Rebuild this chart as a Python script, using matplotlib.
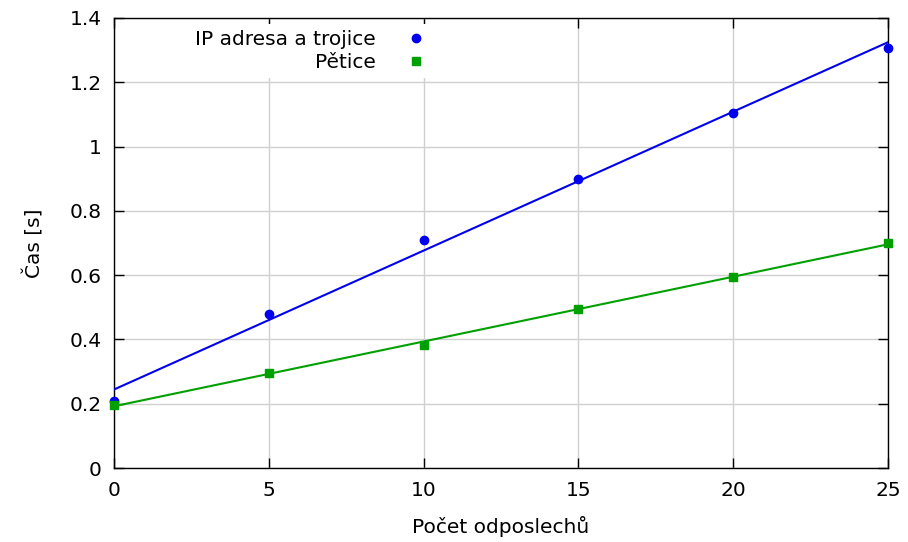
import numpy as np
import matplotlib
matplotlib.use("Agg")
import matplotlib.pyplot as plt

x = [0, 5, 10, 15, 20, 25]
ip_trojice = [0.208, 0.479, 0.709, 0.899, 1.105, 1.307]
petice = [0.196, 0.296, 0.383, 0.495, 0.594, 0.700]
labels = ["IP adresa a trojice", "Pětice"]
xticks = [0, 5, 10, 15, 20, 25]
yticks = [0, 0.2, 0.4, 0.6, 0.8, 1.0, 1.2, 1.4]
yticklabels = ["0", "0.2", "0.4", "0.6", "0.8", "1", "1.2", "1.4"]

plt.rcParams['font.family'] = ['DejaVu Sans']
fig = plt.figure(figsize=(9.08, 5.42), dpi=100)
ax = fig.add_axes([0.1256, 0.1365, 0.978 - 0.1256, 0.9668 - 0.1365])

blue = '#0000ee'
green = '#00a000'
fs = 14.5
xs = np.array([0, 25])
for ys, c, m, lab in [(ip_trojice, blue, 'o', labels[0]), (petice, green, 's', labels[1])]:
    k, q = np.polyfit(x, ys, 1)
    ax.plot(xs, k * xs + q, color=c, lw=1.5, zorder=3)
    ax.plot(x, ys, linestyle='none', marker=m, color=c, markersize=6,
            label=lab, zorder=4, clip_on=False)

ax.set_xlim(0, 25)
ax.set_ylim(0, 1.4)
ax.set_xticks(xticks)
ax.set_yticks(yticks)
ax.set_yticklabels(yticklabels)
ax.grid(True, color='#d0d0d0', lw=1, zorder=0)
ax.set_axisbelow(True)
ax.tick_params(direction='in', length=7, width=1, top=True, right=True, labelsize=fs, pad=9)
for s in ax.spines.values():
    s.set_linewidth(1)
ax.set_xlabel("Počet odposlechů", fontsize=fs, labelpad=12)
ax.set_ylabel("Čas [s]", fontsize=fs, labelpad=18)

leg = ax.legend(loc='upper right', bbox_to_anchor=(0.411, 0.987), markerfirst=False, frameon=True,
                fontsize=fs, handlelength=1.0, handletextpad=1.5, borderaxespad=0.0,
                labelspacing=0.2, borderpad=0.3)
leg.get_frame().set_edgecolor('none')
leg.get_frame().set_facecolor('white')
leg.get_frame().set_alpha(1)
for t in leg.get_texts():
    t.set_ha('right')
leg._legend_box.align = 'right'
leg.set_zorder(2)

fig.savefig("out.png", dpi=100)
